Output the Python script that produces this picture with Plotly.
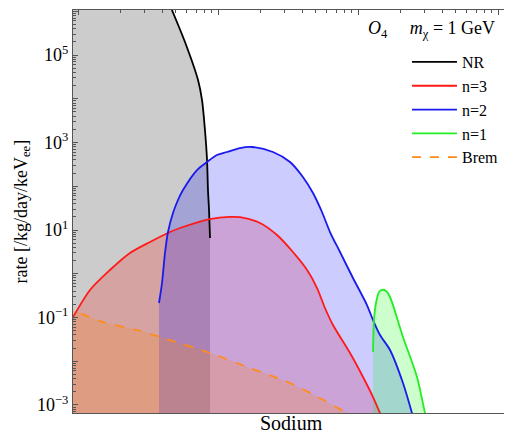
import plotly.graph_objects as go

# ---- data ----
nr_x = [0.744, 1.436, 2.77, 3.85, 4.69, 5.81, 7.20, 7.69, 8.07, 8.35, 8.48, 8.63, 8.77]
nr_y = [2.4e10, 1e9, 4.3e7, 5.2e6, 1.07e6, 1.98e5, 2.68e4, 9.36e3, 1.93e3, 398, 82, 28.6, 6.56]

n3_x = [0.807, 0.921, 1.218, 1.692, 2.351, 3.268, 4.541, 5.354, 8.77, 12.18, 14.36, 19.95,
        26.4, 34.3, 43.3, 51.0, 58.1, 66.28, 87.70, 108.6, 128.0, 143.6, 155.9]
n3_y = [0.0518, 0.1026, 0.4254, 1.218, 2.98, 5.32, 9.0, 11.1, 17.8, 20.0, 19.6, 14.5,
        7.69, 3.14, 1.218, 0.472, 0.165, 0.0674, 0.01544, 0.00437, 0.00152, 6.56e-4, 3.5e-4]

n2_x = [3.790, 3.981, 4.182, 4.394, 4.770, 5.179, 5.623, 7.08, 8.346, 9.84, 11.59, 14.36, 17.5,
        24.7, 32.7, 40.4, 47.7, 55.3, 63.1, 74.4, 92.1, 115.9, 128.0, 143.6, 169.3, 209.6, 243.0, 259.6]
n2_y = [0.2145, 0.615, 2.98, 9.0, 24.5, 48.5, 82.0, 235, 358, 518, 607, 748, 789,
        607, 358, 162.5, 70.1, 25.8, 9.0, 3.14, 0.80, 0.193, 0.0877, 0.0398, 0.0181, 0.00318, 6.56e-4, 2.98e-4]

n1_x = [128.0, 130.1, 134.5, 141.3, 148.4, 158.5, 169.3, 209.6, 263.9, 301.0, 316.0]
n1_y = [0.01626, 0.0877, 0.2145, 0.383, 0.43, 0.404, 0.294, 0.0358, 0.00437, 6.56e-4, 3.5e-4]

brem_x = [0.807, 0.921, 1.508, 2.639, 3.852, 8.77, 16.93, 32.68, 51.8, 83.46, 103.3]
brem_y = [0.183, 0.148, 0.0789, 0.0518, 0.0358, 0.01544, 0.00702, 0.00318, 0.00152, 6.56e-4, 4.54e-4]

series = [
    ("NR", nr_x, nr_y, "black", "rgba(0,0,0,0.2)", "solid"),
    ("n=3", n3_x, n3_y, "#ff1a1a", "rgba(255,0,0,0.2)", "solid"),
    ("n=2", n2_x, n2_y, "#1a1aee", "rgba(0,0,255,0.2)", "solid"),
    ("n=1", n1_x, n1_y, "#22ee22", "rgba(0,255,0,0.2)", "solid"),
    ("Brem", brem_x, brem_y, "#ff8c1a", "rgba(255,128,0,0.2)", "dash"),
]

y_tick_exps = list(range(-3, 7))
y_label_exps = [-3, -1, 1, 3, 5]
x_tick_exps = list(range(-1, 5))

x_range = [-0.0357, 3.0786]
y_range = [-3.183, 6.029]

FONT = "Liberation Serif"

fig = go.Figure()

for name, xs, ys, col, fcol, dash in series:
    fig.add_trace(go.Scatter(x=xs, y=ys, mode="lines", line=dict(width=0, shape="spline", smoothing=0.8),
                             fill="tozeroy", fillcolor=fcol, showlegend=False, hoverinfo="skip"))
for name, xs, ys, col, fcol, dash in series:
    fig.add_trace(go.Scatter(x=xs, y=ys, mode="lines", name=name,
                             line=dict(color=col, width=1.8, shape="spline", smoothing=0.8, dash=dash)))

fig.add_trace(go.Scatter(x=[], y=[], xaxis="x2", yaxis="y", showlegend=False))

ytickvals = [10.0 ** e for e in y_tick_exps]
yticktext = [("10<sup>%d</sup>" % e if e >= 0 else "10<sup>\u2212%d</sup>" % -e) if e in y_label_exps else ""
             for e in y_tick_exps]
yminor = [m * 10.0 ** e for e in range(-4, 7) for m in range(2, 10)]
xtickvals = [10.0 ** e for e in x_tick_exps]
xminor = [m * 10.0 ** e for e in range(-1, 5) for m in range(2, 10)]

# the page body adds an 8px offset; margins compensate for it
fig.update_layout(
    width=512, height=434,
    margin=dict(l=65, r=11, t=2, b=29, autoexpand=False),
    paper_bgcolor="white", plot_bgcolor="white",
    font=dict(family=FONT, color="black"),
    showlegend=True,
    legend=dict(x=0.766, y=0.913, xanchor="left", yanchor="top", bgcolor="rgba(0,0,0,0)",
                font=dict(family=FONT, size=16), itemwidth=45, tracegroupgap=0),
    xaxis=dict(type="log", range=x_range, showline=True, linecolor="#555", linewidth=1,
               mirror=True, ticks="", showticklabels=False, showgrid=False, zeroline=False,
               automargin=False),
    xaxis2=dict(type="log", range=x_range, overlaying="x", side="top", anchor="y",
                showline=False, ticks="inside", ticklen=5, tickcolor="#555", automargin=False,
                tickvals=xtickvals, showticklabels=False, showgrid=False, zeroline=False,
                minor=dict(ticks="inside", ticklen=3, tickcolor="#555", tickvals=xminor, showgrid=False)),
    yaxis=dict(type="log", range=y_range, showline=True, linecolor="#555", linewidth=1,
               mirror="ticks", ticks="inside", ticklen=5, tickcolor="#555", automargin=False,
               tickvals=ytickvals, ticktext=yticktext, showgrid=False, zeroline=False,
               tickfont=dict(family=FONT, size=18),
               minor=dict(ticks="inside", ticklen=3, tickcolor="#555", tickvals=yminor, showgrid=False)),
    annotations=[
        dict(text="<i>O</i><sub>4</sub>&nbsp;&nbsp;&nbsp;&nbsp;&nbsp;<i>m</i><sub>\u03c7</sub> = 1 GeV",
             xref="paper", yref="paper", x=0.972, y=0.952, xanchor="right", yanchor="middle",
             showarrow=False, font=dict(family=FONT, size=18)),
        dict(text="Sodium", xref="paper", yref="paper", x=0.5, y=0, yshift=-10,
             xanchor="center", yanchor="middle", showarrow=False, font=dict(family=FONT, size=20)),
        dict(text="rate [/kg/day/keV<sub>ee</sub>]", xref="paper", yref="paper", x=0, xshift=-51,
             y=0.5, textangle=-90, xanchor="center", yanchor="middle", showarrow=False,
             font=dict(family=FONT, size=18)),
    ],
)

fig.write_html("out.html")
